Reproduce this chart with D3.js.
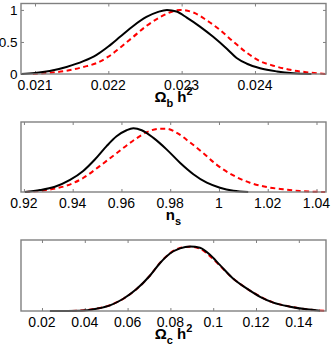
<!DOCTYPE html>
<html><head><meta charset="utf-8">
<script src="https://cdn.jsdelivr.net/npm/d3@7"></script>
<style>html,body{margin:0;padding:0;background:#fff;}svg{display:block;}</style>
</head><body>
<svg id="c" width="332" height="348"></svg>
<script>
// Panel 1: Omega_b h^2
const obX = [0.02081,0.0210,0.0212,0.02143,0.02166,0.02184,0.0220,0.02216,0.02234,0.02252,0.02268,0.0228,0.02293,0.02307,0.02325,0.02343,0.02362,0.02375,0.02389,0.02407,0.0243,0.02452,0.02477];
const obBlack = [0,0.015,0.047,0.11,0.2,0.3,0.43,0.58,0.75,0.89,0.97,1.0,0.975,0.88,0.74,0.58,0.39,0.25,0.16,0.09,0.04,0.012,0];
const obRedX = [0.02097,0.0212,0.02143,0.02166,0.02184,0.0220,0.02216,0.02234,0.02252,0.02271,0.02289,0.02297,0.02316,0.02334,0.02352,0.0237,0.02389,0.02407,0.02425,0.02448,0.0247,0.02496];
const obRed = [0,0.02,0.05,0.11,0.17,0.27,0.41,0.58,0.75,0.89,0.98,1.0,0.96,0.84,0.69,0.51,0.33,0.2,0.13,0.065,0.028,0];
const obTicks = [0.021,0.022,0.023,0.024];
const obTickLabels = ["0.021","0.022","0.023","0.024"];
const yTicks = [0,0.5,1];
const yTickLabels = ["0","0.5","1"];

// Panel 2: n_s
const nsX = [0.9204,0.9266,0.9327,0.9389,0.9443,0.9491,0.9539,0.958,0.9621,0.9649,0.9683,0.9731,0.9785,0.984,0.9895,0.995,1.0004,1.0059,1.012];
const nsBlack = [0,0.03,0.083,0.19,0.33,0.51,0.72,0.875,0.97,1.0,0.97,0.85,0.67,0.46,0.28,0.146,0.068,0.02,0];
const nsRedX = [0.9204,0.9307,0.9375,0.9443,0.9512,0.958,0.9649,0.9704,0.9758,0.9785,0.9827,0.9881,0.9936,0.999,1.0059,1.0127,1.0196,1.0264,1.0332,1.0435];
const nsRed = [0,0.04,0.1,0.22,0.41,0.61,0.81,0.94,0.995,0.995,0.93,0.78,0.61,0.43,0.26,0.146,0.078,0.042,0.016,0];
const nsTicks = [0.92,0.94,0.96,0.98,1.0,1.02,1.04];
const nsTickLabels = ["0.92","0.94","0.96","0.98","1","1.02","1.04"];

// Panel 3: Omega_c h^2
const ocX = [0.0237,0.0378,0.0455,0.0518,0.058,0.0642,0.0705,0.0751,0.0798,0.0845,0.0892,0.0938,0.0985,0.1032,0.1094,0.1156,0.1219,0.1281,0.1359,0.1437,0.1499];
const ocBlack = [0,0.005,0.036,0.088,0.19,0.34,0.55,0.74,0.89,0.97,1.0,0.98,0.87,0.71,0.50,0.35,0.22,0.13,0.067,0.026,0.005];
const ocRedX = [0.0300,0.0378,0.0455,0.0518,0.058,0.0642,0.0705,0.0751,0.0798,0.0845,0.0892,0.0938,0.0985,0.1032,0.1094,0.1156,0.1219,0.1281,0.1359,0.1437,0.1527];
const ocRed = [0,0.006,0.038,0.09,0.19,0.34,0.55,0.745,0.895,0.975,0.995,0.965,0.85,0.70,0.50,0.35,0.225,0.13,0.068,0.027,0];
const ocTicks = [0.02,0.04,0.06,0.08,0.1,0.12,0.14];
const ocTickLabels = ["0.02","0.04","0.06","0.08","0.1","0.12","0.14"];

const svg = d3.select("#c");
const L = 21, R = 326;
const FONT = "'Liberation Sans', Arial, Helvetica, sans-serif";

function panel(cfg) {
  const x = d3.scaleLinear().domain(cfg.xdom).range([L, R]);
  const y = d3.scaleLinear().domain([0, 1.1]).range([cfg.bottom, cfg.top]);
  const g = svg.append("g");
  const line = d3.line().x(d => x(d[0])).y(d => y(d[1])).curve(d3.curveMonotoneX);
  const redPts = cfg.redX.map((v, i) => [v, cfg.red[i]]);
  const blackPts = cfg.blackX.map((v, i) => [v, cfg.black[i]]);
  const axB = d3.axisTop(x).tickValues(cfg.ticks).tickSize(3).tickFormat("");
  const axT = d3.axisBottom(x).tickValues(cfg.ticks).tickSize(3).tickFormat("");
  g.append("g").attr("transform", `translate(0,${cfg.bottom})`).call(axB);
  g.append("g").attr("transform", `translate(0,${cfg.top})`).call(axT);
  if (cfg.yticks) {
    const axL = d3.axisRight(y).tickValues(yTicks).tickSize(3).tickFormat("");
    const axR = d3.axisLeft(y).tickValues(yTicks).tickSize(3).tickFormat("");
    g.append("g").attr("transform", `translate(${L},0)`).call(axL);
    g.append("g").attr("transform", `translate(${R},0)`).call(axR);
    g.selectAll(".ylab").data(yTicks).enter().append("text")
      .attr("x", L - 3.5).attr("y", d => y(d) + 5)
      .attr("text-anchor", "end").attr("font-family", FONT).attr("font-size", 13.5)
      .text((d, i) => yTickLabels[i]);
  }
  g.selectAll(".domain").remove();
  g.selectAll(".tick line").attr("stroke", "#808080").attr("stroke-width", 1);
  g.append("path").datum(redPts).attr("d", line).attr("fill", "none")
    .attr("stroke", "#ff0000").attr("stroke-width", 2).attr("stroke-dasharray", "5,3.5");
  g.append("path").datum(blackPts).attr("d", line).attr("fill", "none")
    .attr("stroke", "#000").attr("stroke-width", 2);
  g.append("rect").attr("x", L).attr("y", cfg.top).attr("width", R - L).attr("height", cfg.bottom - cfg.top)
    .attr("fill", "none").attr("stroke", "#808080").attr("stroke-width", 1.4);
  g.selectAll(".xlab").data(cfg.ticks).enter().append("text")
    .attr("x", d => x(d)).attr("y", cfg.bottom + 15.5)
    .attr("text-anchor", "middle").attr("font-family", FONT).attr("font-size", 14)
    .text((d, i) => cfg.tickLabels[i]);
  const t = g.append("text").attr("x", (L + R) / 2).attr("y", cfg.bottom + 28)
    .attr("text-anchor", "middle").attr("font-family", FONT).attr("font-size", 15).attr("font-weight", "bold");
  cfg.title(t);
}

function omegaTitle(sub) {
  return t => {
    t.append("tspan").text("Ω");
    t.append("tspan").attr("font-size", 11).attr("dy", 5).text(sub);
    t.append("tspan").attr("dy", -5).text(" h");
    t.append("tspan").attr("font-size", 11).attr("dy", -7).text("2");
  };
}

panel({xdom: [0.020809, 0.024969], top: 3.5, bottom: 74, blackX: obX, black: obBlack, redX: obRedX, red: obRed,
  ticks: obTicks, tickLabels: obTickLabels, yticks: true, title: omegaTitle("b")});
panel({xdom: [0.9188, 1.0439], top: 122, bottom: 192, blackX: nsX, black: nsBlack, redX: nsRedX, red: nsRed,
  ticks: nsTicks, tickLabels: nsTickLabels, yticks: false, title: t => {
    t.append("tspan").text("n");
    t.append("tspan").attr("font-size", 11).attr("dy", 5).text("s");
  }});
panel({xdom: [0.0102, 0.1527], top: 240, bottom: 311, blackX: ocX, black: ocBlack, redX: ocRedX, red: ocRed,
  ticks: ocTicks, tickLabels: ocTickLabels, yticks: false, title: omegaTitle("c")});
</script>
</body></html>
